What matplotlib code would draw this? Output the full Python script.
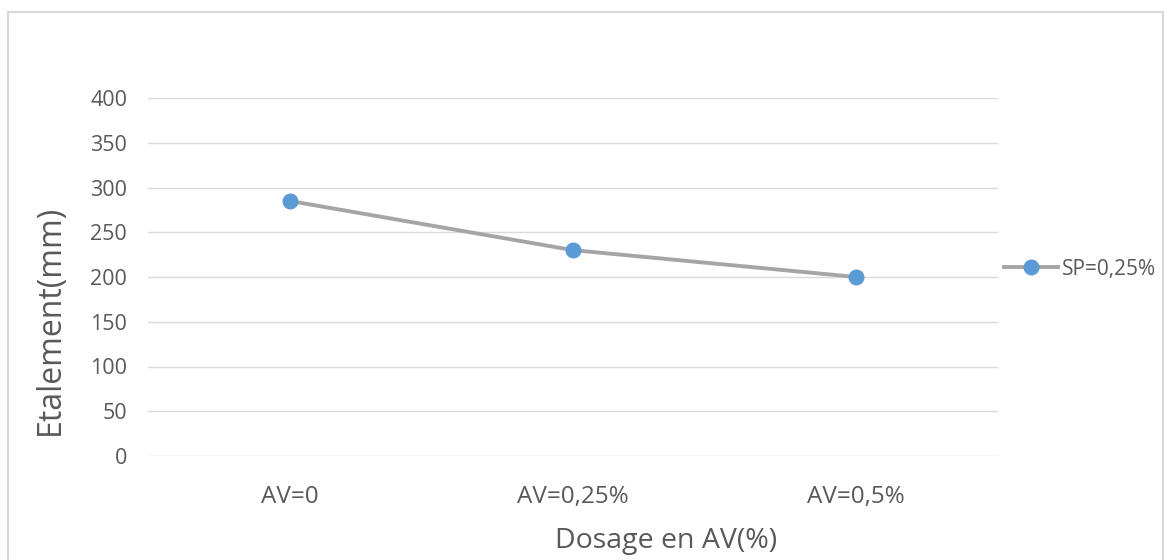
import matplotlib.pyplot as plt
from matplotlib.patches import Rectangle

categories = ['AV=0', 'AV=0,25%', 'AV=0,5%']
etalement = [285, 230, 200]
series_name = 'SP=0,25%'
y_ticks = [0, 50, 100, 150, 200, 250, 300, 350, 400]

plt.rcParams['font.family'] = ['Open Sans', 'DejaVu Sans']
text_color = '#595959'

W, H = 1165, 560
fig = plt.figure(figsize=(W / 100, H / 100), dpi=100)
ax = fig.add_axes([148 / W, 1 - 456 / H, 850 / W, 358 / H])

x = list(range(len(categories)))
ax.plot(x, etalement, color='#a5a5a5', linewidth=2.8, marker='o',
        markersize=10.5, markerfacecolor='#5b9bd5', markeredgecolor='#5b9bd5',
        label=series_name, zorder=3)

ax.set_xlim(-0.5, len(categories) - 0.5)
ax.set_ylim(0, 400)
ax.set_yticks(y_ticks)
ax.set_xticks(x)
ax.set_xticklabels(categories)
ax.grid(axis='y', color='#d9d9d9', linewidth=1)
ax.set_axisbelow(True)
for side in ['top', 'right', 'left', 'bottom']:
    ax.spines[side].set_visible(False)
ax.tick_params(axis='both', length=0, colors=text_color)
ax.tick_params(axis='y', pad=15, labelsize=15.5)
ax.tick_params(axis='x', pad=21, labelsize=17.5)

ax.set_ylabel('Etalement(mm)', fontsize=23, color=text_color)
ax.yaxis.set_label_coords(-0.115, 0.38)
ax.set_xlabel('Dosage en AV(%)', fontsize=20.5, color=text_color)
ax.xaxis.set_label_coords(0.609, -0.237)
ax.xaxis.label.set_va('center')
ax.yaxis.label.set_va('center')

leg = fig.legend(loc='center left', bbox_to_anchor=(1004 / W, 1 - 269 / H),
                 frameon=False, fontsize=15, handlelength=2.6,
                 handletextpad=0.2, borderpad=0, borderaxespad=0)
for t in leg.get_texts():
    t.set_color(text_color)

fig.patches.append(Rectangle((8 / W, -0.01), 1155 / W, 1 - 12 / H + 0.01,
                             transform=fig.transFigure, fill=False,
                             edgecolor='#d9d9d9', linewidth=1.5))

fig.savefig('out.png', dpi=100)
